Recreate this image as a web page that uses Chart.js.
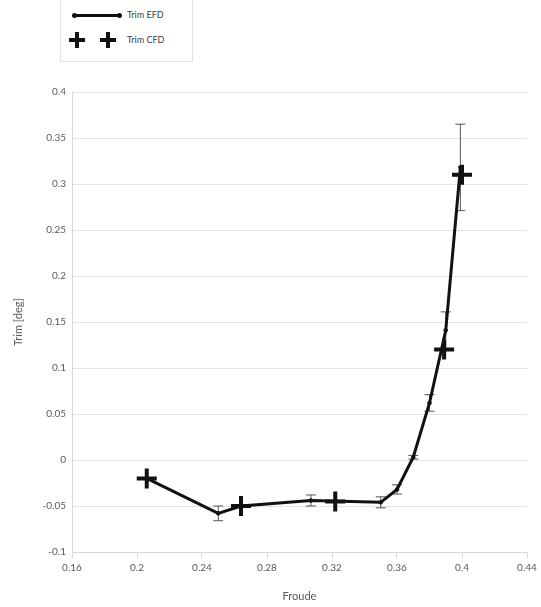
<!DOCTYPE html>
<html>
<head>
<meta charset="utf-8">
<script src="https://cdn.jsdelivr.net/npm/chart.js@4.4.0/dist/chart.umd.min.js"></script>
<style>
  body { margin: 0; background: #fff; font-family: Lato, "Open Sans", sans-serif; }
  #wrap { position: relative; width: 541px; height: 607px; }
  #legend { position: absolute; left: 60px; top: 0; width: 131px; height: 61px; border: 1px solid #e2e2e2; border-top: none; background: #fff; }
  .item { position: absolute; left: 0; height: 20px; width: 131px; }
  .lbl { position: absolute; left: 66px; top: 4px; font-size: 9px; color: #404040; }
  .efd-line { position: absolute; left: 13px; top: 9px; width: 46px; height: 3px; background: #111; }
  .dot { position: absolute; top: 8px; width: 5px; height: 5px; border-radius: 50%; background: #111; }
  .plus { position: absolute; top: 2px; width: 16px; height: 16px; }
  .plus:before { content: ""; position: absolute; left: 0; top: 6px; width: 16px; height: 4px; background: #111; }
  .plus:after { content: ""; position: absolute; left: 6px; top: 0; width: 4px; height: 16px; background: #111; }
</style>
</head>
<body>
<div id="wrap">
  <canvas id="chart" width="541" height="607"></canvas>
  <div id="legend">
    <div class="item" style="top:5px">
      <div class="efd-line"></div>
      <div class="dot" style="left:11px"></div>
      <div class="dot" style="left:56px"></div>
      <span class="lbl">Trim EFD</span>
    </div>
    <div class="item" style="top:30px">
      <div class="plus" style="left:8px"></div>
      <div class="plus" style="left:39px"></div>
      <span class="lbl">Trim CFD</span>
    </div>
  </div>
</div>

<script>
  // experimental trim values with their uncertainty
  const efdFroude = [0.206, 0.25, 0.264, 0.307, 0.35, 0.36, 0.37, 0.38, 0.39, 0.399];
  const efdTrim = [-0.02, -0.058, -0.05, -0.044, -0.046, -0.032, 0.003, 0.062, 0.141, 0.318];
  const efdError = [0, 0.008, 0, 0.006, 0.006, 0.005, 0.002, 0.009, 0.02, 0.047];

  // computed trim values
  const cfdFroude = [0.206, 0.264, 0.322, 0.389, 0.4];
  const cfdTrim = [-0.02, -0.05, -0.045, 0.12, 0.31];

  const xTicks = [0.16, 0.2, 0.24, 0.28, 0.32, 0.36, 0.4, 0.44];
  const yTicks = [-0.1, -0.05, 0, 0.05, 0.1, 0.15, 0.2, 0.25, 0.3, 0.35, 0.4];

  const efdPoints = efdFroude.map((x, i) => ({ x: x, y: efdTrim[i] }));
  const cfdPoints = cfdFroude.map((x, i) => ({ x: x, y: cfdTrim[i] }));

  // draws the error bars of the EFD series
  const errorBars = {
    id: 'errorBars',
    beforeDatasetsDraw(chart) {
      const ctx = chart.ctx;
      const xs = chart.scales.x, ys = chart.scales.y;
      ctx.save();
      ctx.strokeStyle = '#555';
      ctx.lineWidth = 1;
      efdFroude.forEach((f, i) => {
        if (!efdError[i]) return;
        const px = xs.getPixelForValue(f);
        const top = ys.getPixelForValue(efdTrim[i] + efdError[i]);
        const bot = ys.getPixelForValue(efdTrim[i] - efdError[i]);
        ctx.beginPath();
        ctx.moveTo(px, top); ctx.lineTo(px, bot);
        ctx.moveTo(px - 5, top); ctx.lineTo(px + 5, top);
        ctx.moveTo(px - 5, bot); ctx.lineTo(px + 5, bot);
        ctx.stroke();
      });
      ctx.restore();
    }
  };

  const fmt = v => String(+(+v).toFixed(2));
  const font = { family: 'Lato, "Open Sans", sans-serif', size: 10 };

  new Chart(document.getElementById('chart').getContext('2d'), {
    type: 'scatter',
    data: {
      datasets: [{
        label: 'Trim EFD',
        data: efdPoints,
        showLine: true,
        borderColor: '#111',
        backgroundColor: '#111',
        borderWidth: 3,
        pointRadius: 1.8,
        pointBorderWidth: 1,
        pointStyle: 'circle',
        order: 2
      }, {
        label: 'Trim CFD',
        data: cfdPoints,
        showLine: false,
        pointStyle: 'cross',
        pointRadius: 10,
        borderColor: '#111',
        borderWidth: 4,
        order: 1
      }]
    },
    options: {
      responsive: false,
      animation: false,
      layout: { padding: { left: 0, top: 92, right: 11, bottom: 0 } },
      plugins: { legend: { display: false }, tooltip: { enabled: false } },
      scales: {
        x: {
          type: 'linear',
          min: 0.16, max: 0.44,
          afterBuildTicks: s => { s.ticks = xTicks.map(v => ({ value: v })); },
          afterFit: s => { s.height = 55; },
          ticks: { callback: fmt, color: '#595959', font: font, padding: 4, maxRotation: 0 },
          grid: { drawOnChartArea: false, tickLength: 6, color: '#d9d9d9' },
          border: { color: '#d9d9d9' },
          title: { display: true, text: 'Froude', color: '#595959', font: { family: font.family, size: 11 }, padding: { top: 0, bottom: 4 } }
        },
        y: {
          type: 'linear',
          min: -0.1, max: 0.4,
          afterBuildTicks: s => { s.ticks = yTicks.map(v => ({ value: v })); },
          afterFit: s => { s.width = 72; },
          ticks: { callback: fmt, color: '#595959', font: font, padding: 6 },
          grid: { color: '#e3e3e3', tickLength: 0 },
          border: { color: '#d9d9d9' },
          title: { display: true, text: 'Trim [deg]', color: '#595959', font: { family: font.family, size: 11 }, padding: { top: 12, bottom: 0 } }
        }
      }
    },
    plugins: [errorBars]
  });
</script>
</body>
</html>
